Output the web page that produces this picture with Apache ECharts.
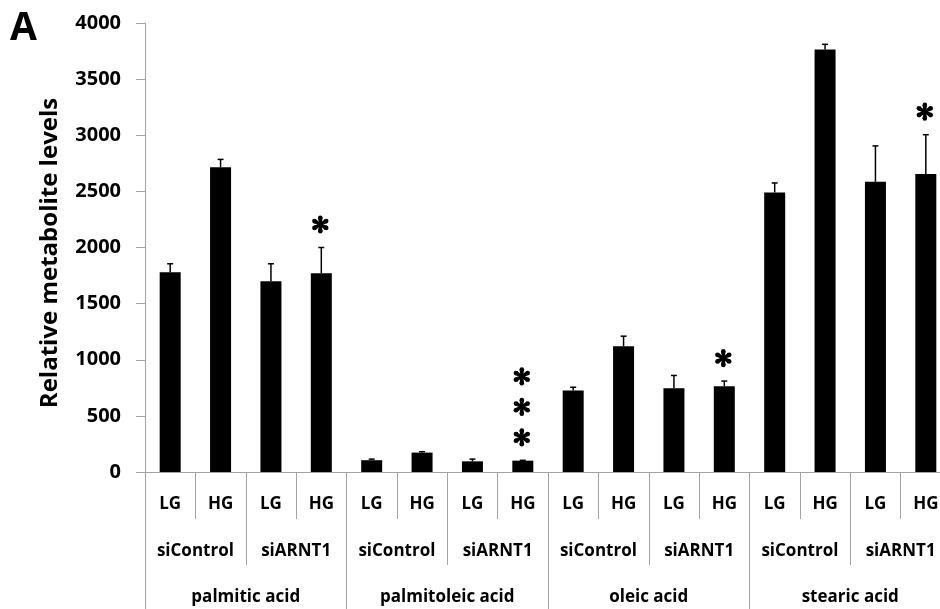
<!DOCTYPE html>
<html>
<head>
<meta charset="utf-8">
<script src="https://cdn.jsdelivr.net/npm/echarts@6/dist/echarts.min.js"></script>
<style>
  html, body { margin: 0; padding: 0; background: #fff; }
  #chart { width: 940px; height: 609px; }
</style>
</head>
<body>
<div id="chart"></div>
<script>
// Three-level category labels (innermost first)
const glucose = ['LG', 'HG', 'LG', 'HG', 'LG', 'HG', 'LG', 'HG',
                 'LG', 'HG', 'LG', 'HG', 'LG', 'HG', 'LG', 'HG'];
const treatment = ['siControl', 'siARNT1', 'siControl', 'siARNT1',
                   'siControl', 'siARNT1', 'siControl', 'siARNT1'];
const acids = ['palmitic acid', 'palmitoleic acid', 'oleic acid', 'stearic acid'];

// Mean metabolite levels and their upper error (SE)
const means = [1780, 2715, 1700, 1770, 105, 173, 95, 101,
               725, 1120, 745, 765, 2490, 3765, 2585, 2655];
const errors = [75, 70, 155, 230, 10, 8, 20, 3,
                30, 90, 115, 45, 85, 45, 320, 350];
// Number of significance asterisks above each bar
const stars = [0, 0, 0, 1, 0, 0, 0, 3, 0, 0, 0, 1, 0, 0, 0, 1];

const yTicks = { min: 0, max: 4000, interval: 500 };

const FONT = '"Open Sans", "DejaVu Sans", sans-serif';
const GRAY = '#a3a3a3';

const chart = echarts.init(document.getElementById('chart'), null, { renderer: 'canvas' });

function catAxis(data, tickLen, labelMargin, fontSize, showLine) {
  return {
    type: 'category',
    data: data,
    position: 'bottom',
    gridIndex: 0,
    axisLine: { show: showLine, lineStyle: { color: GRAY, width: 1 } },
    axisTick: { show: true, interval: 0, length: tickLen, lineStyle: { color: GRAY, width: 1 } },
    axisLabel: {
      interval: 0, margin: labelMargin, color: '#000',
      fontFamily: FONT, fontWeight: 'bold', fontSize: fontSize
    },
    splitLine: { show: false }
  };
}

// One six-armed asterisk centred at (cx, cy): tapered arms with rounded tips
function asterisk(cx, cy) {
  const parts = [];
  const armLen = 6.8, tipR = 2.3;
  for (let k = 0; k < 6; k++) {
    const a = Math.PI / 2 + k * Math.PI / 3;
    const dx = Math.cos(a), dy = Math.sin(a);
    const px = -dy, py = dx;
    const ex = cx + dx * armLen, ey = cy + dy * armLen;
    parts.push({
      type: 'polygon',
      shape: {
        points: [
          [cx + px * 1.2, cy + py * 1.2],
          [ex + px * tipR, ey + py * tipR],
          [ex - px * tipR, ey - py * tipR],
          [cx - px * 1.2, cy - py * 1.2]
        ]
      },
      style: { fill: '#000' }
    });
    parts.push({
      type: 'circle',
      shape: { cx: ex, cy: ey, r: tipR },
      style: { fill: '#000' }
    });
  }
  parts.push({ type: 'circle', shape: { cx: cx, cy: cy, r: 2.2 }, style: { fill: '#000' } });
  return parts;
}

const errData = means.map((m, i) => [i, m, errors[i]]);
const starData = means.map((m, i) => [i, m + errors[i], stars[i]]);

const option = {
  backgroundColor: '#fff',
  animation: false,
  grid: {
    left: 145, right: -11, top: 23, bottom: 137,
    containLabel: false, outerBoundsMode: 'none'
  },
  xAxis: [
    catAxis(glucose, 47, 24, 17, true),
    catAxis(treatment, 93, 71, 17, false),
    catAxis(acids, 140, 117, 17, false)
  ],
  yAxis: {
    type: 'value',
    min: yTicks.min, max: yTicks.max, interval: yTicks.interval,
    axisLine: { show: true, lineStyle: { color: GRAY, width: 1 } },
    axisTick: { show: true, length: 9, lineStyle: { color: GRAY, width: 1 } },
    splitLine: { show: false },
    axisLabel: {
      margin: 24, color: '#000', fontFamily: FONT, fontWeight: 'bold', fontSize: 20,
      formatter: function (v) { return String(v); }
    }
  },
  graphic: [
    {
      type: 'text', left: 10, top: 9,
      style: { text: 'A', fill: '#000', font: 'bold 39px ' + FONT }
    },
    {
      type: 'text', x: 50, y: 253, rotation: Math.PI / 2,
      style: {
        text: 'Relative metabolite levels', fill: '#000',
        font: 'bold 24px ' + FONT, align: 'center', verticalAlign: 'middle'
      }
    }
  ],
  series: [
    {
      type: 'bar',
      xAxisIndex: 0,
      data: means,
      barWidth: 21,
      itemStyle: { color: '#000' }
    },
    {
      type: 'custom',
      xAxisIndex: 0,
      data: errData,
      encode: { x: 0, y: 1 },
      z: 3,
      renderItem: function (params, api) {
        const i = api.value(0);
        const base = api.coord([i, api.value(1)]);
        const top = api.coord([i, api.value(1) + api.value(2)]);
        const half = 3;
        return {
          type: 'group',
          children: [
            { type: 'line', shape: { x1: base[0], y1: base[1], x2: top[0], y2: top[1] },
              style: { stroke: '#000', lineWidth: 1.5 } },
            { type: 'line', shape: { x1: top[0] - half, y1: top[1], x2: top[0] + half, y2: top[1] },
              style: { stroke: '#000', lineWidth: 1.5 } }
          ]
        };
      }
    },
    {
      type: 'custom',
      xAxisIndex: 0,
      data: starData,
      encode: { x: 0, y: 1 },
      z: 4,
      renderItem: function (params, api) {
        const n = api.value(2);
        if (!n) return null;
        const top = api.coord([api.value(0), api.value(1)]);
        let children = [];
        for (let s = 0; s < n; s++) {
          children = children.concat(asterisk(top[0] - 1, top[1] - 23 - s * 30.5));
        }
        return { type: 'group', children: children };
      }
    }
  ]
};

chart.setOption(option);
</script>
</body>
</html>
